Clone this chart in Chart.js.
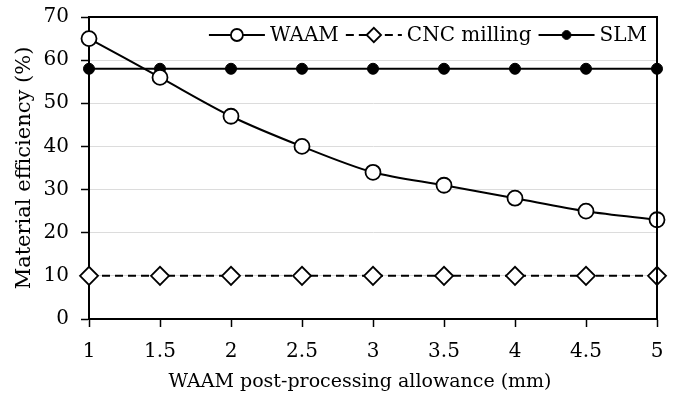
<!DOCTYPE html>
<html>
<head>
<meta charset="utf-8">
<script src="https://cdn.jsdelivr.net/npm/chart.js@4/dist/chart.umd.min.js"></script>
<style>
  html, body { margin: 0; padding: 0; background: #fff; }
  #wrap { width: 676px; height: 395px; }
</style>
</head>
<body>
<div id="wrap"><canvas id="myChart" width="676" height="395"></canvas></div>
<script>
// values
const allowance = [1, 1.5, 2, 2.5, 3, 3.5, 4, 4.5, 5];
const waam = [65, 56, 47, 40, 34, 31, 28, 25, 23];
const cncMilling = [10, 10, 10, 10, 10, 10, 10, 10, 10];
const slm = [58, 58, 58, 58, 58, 58, 58, 58, 58];
const seriesNames = ['WAAM', 'CNC milling', 'SLM'];
const xTitle = 'WAAM post-processing allowance (mm)';
const yTitle = 'Material efficiency (%)';

const FONT = "'DejaVu Serif', 'Liberation Serif', serif";
const toPoints = (ys) => ys.map((y, i) => ({ x: allowance[i], y: y }));

// box round the plot area + x axis title
const frame = {
    id: 'frame',
    afterDatasetsDraw(chart) {
        const { ctx, chartArea: a } = chart;
        ctx.save();
        ctx.strokeStyle = '#000';
        ctx.lineWidth = 2;
        ctx.beginPath();
        ctx.moveTo(a.left, a.top);
        ctx.lineTo(a.right, a.top);
        ctx.lineTo(a.right, a.bottom);
        ctx.stroke();
        ctx.fillStyle = '#000';
        ctx.font = `19px ${FONT}`;
        ctx.textAlign = 'center';
        ctx.textBaseline = 'middle';
        ctx.fillText(xTitle, (a.left + a.right) / 2 - 13, a.bottom + 63);
        ctx.restore();
    }
};

// legend inside the plot, top right
const innerLegend = {
    id: 'innerLegend',
    afterDraw(chart) {
        const { ctx, chartArea: a } = chart;
        ctx.save();
        ctx.font = `20px ${FONT}`;
        ctx.textBaseline = 'middle';
        const lineLen = 56, gap = 5, itemGap = 7;
        const sets = chart.data.datasets;
        let total = 0;
        sets.forEach((ds, i) => {
            total += lineLen + gap + ctx.measureText(ds.label).width + (i < sets.length - 1 ? itemGap : 0);
        });
        let x = a.right - 10 - total;
        const y = a.top + 18;
        sets.forEach((ds) => {
            ctx.strokeStyle = '#000';
            ctx.lineWidth = 2;
            ctx.setLineDash(ds.borderDash || []);
            ctx.beginPath();
            ctx.moveTo(x, y);
            ctx.lineTo(x + lineLen, y);
            ctx.stroke();
            ctx.setLineDash([]);
            ctx.fillStyle = ds.pointBackgroundColor;
            ctx.strokeStyle = '#000';
            ctx.lineWidth = ds.pointBorderWidth;
            Chart.helpers.drawPoint(ctx, {
                pointStyle: ds.pointStyle,
                radius: ds.pointRadius * 0.8,
                rotation: 0,
                borderWidth: ds.pointBorderWidth
            }, x + lineLen / 2, y);
            x += lineLen + gap;
            ctx.fillStyle = '#000';
            ctx.fillText(ds.label, x, y + 1);
            x += ctx.measureText(ds.label).width + itemGap;
        });
        ctx.restore();
    }
};

const chartConfig = {
    type: 'line',
    data: {
        datasets: [
            {
                label: seriesNames[0],
                data: toPoints(waam),
                borderColor: '#000',
                borderWidth: 2,
                tension: 0.3,
                pointStyle: 'circle',
                pointRadius: 7.5,
                pointBackgroundColor: '#fff',
                pointBorderColor: '#000',
                pointBorderWidth: 1.8
            },
            {
                label: seriesNames[1],
                data: toPoints(cncMilling),
                borderColor: '#000',
                borderWidth: 2,
                borderDash: [8, 5],
                pointStyle: 'rectRot',
                pointRadius: 9,
                pointBackgroundColor: '#fff',
                pointBorderColor: '#000',
                pointBorderWidth: 1.8
            },
            {
                label: seriesNames[2],
                data: toPoints(slm),
                borderColor: '#000',
                borderWidth: 2,
                pointStyle: 'circle',
                pointRadius: 5.5,
                pointBackgroundColor: '#000',
                pointBorderColor: '#000',
                pointBorderWidth: 1
            }
        ]
    },
    options: {
        responsive: false,
        animation: false,
        clip: false,
        layout: { padding: { top: 17, right: 19, left: 0, bottom: 0 } },
        plugins: {
            legend: { display: false },
            tooltip: { enabled: false }
        },
        scales: {
            x: {
                type: 'linear',
                min: 1,
                max: 5,
                ticks: {
                    stepSize: 0.5,
                    color: '#000',
                    font: { family: FONT, size: 20 },
                    padding: 13,
                    maxRotation: 0,
                    callback: (v) => String(v)
                },
                grid: { drawOnChartArea: false, drawTicks: true, tickLength: 8, tickColor: '#000', tickWidth: 1.5 },
                border: { color: '#000', width: 2 },
                afterFit(scale) {
                    scale.height = 76;
                    scale.paddingLeft = 0;
                    scale.paddingRight = 0;
                }
            },
            y: {
                min: 0,
                max: 70,
                ticks: {
                    stepSize: 10,
                    color: '#000',
                    font: { family: FONT, size: 20 },
                    padding: 12
                },
                grid: { color: '#dcdcdc', lineWidth: 1, drawTicks: true, tickLength: 8, tickColor: '#000', tickWidth: 1.5 },
                border: { color: '#000', width: 2 },
                title: {
                    display: true,
                    text: yTitle,
                    color: '#000',
                    font: { family: FONT, size: 21 },
                    padding: { top: 12, bottom: 0 }
                },
                afterFit(scale) {
                    scale.width = 89;
                    scale.paddingTop = 0;
                    scale.paddingBottom = 0;
                }
            }
        }
    },
    plugins: [frame, innerLegend]
};

new Chart(document.getElementById('myChart').getContext('2d'), chartConfig);
</script>
</body>
</html>
